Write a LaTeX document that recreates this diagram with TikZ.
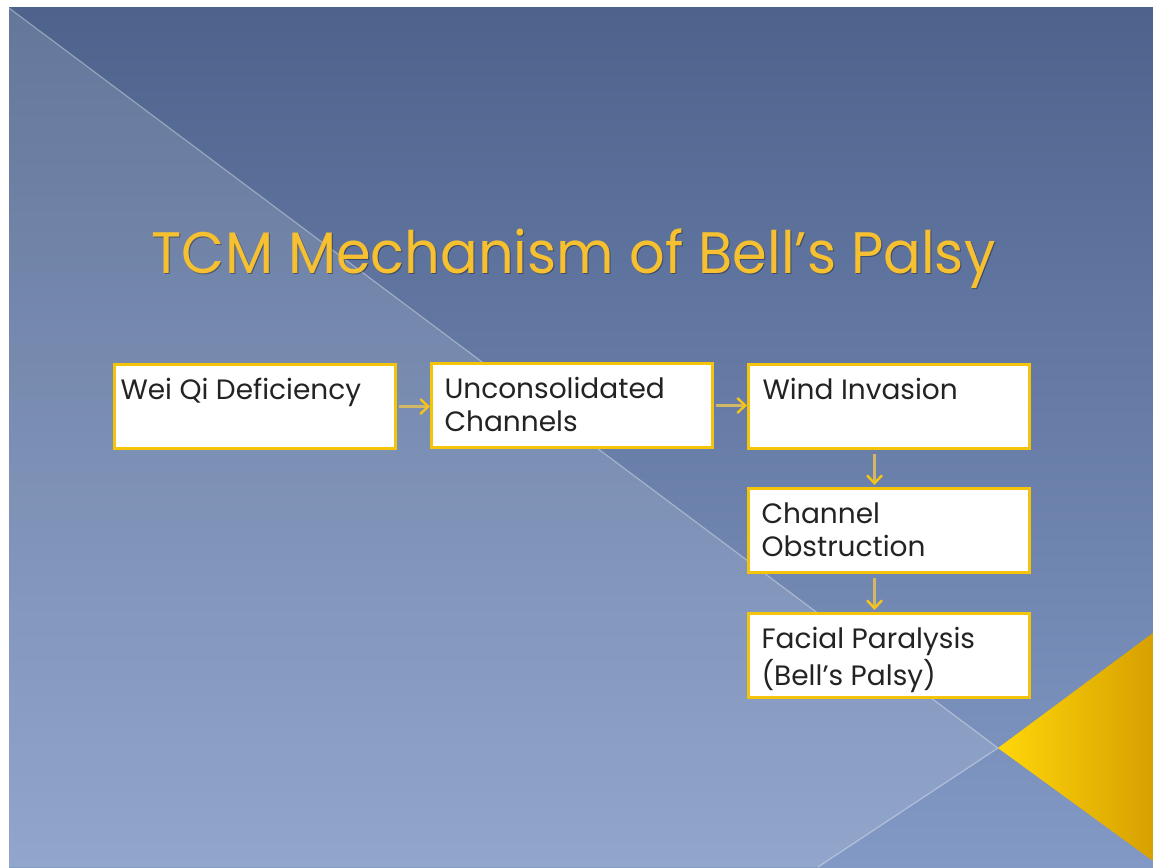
\documentclass[tikz,border=0pt]{standalone}
\usepackage{fontspec}
\setmainfont{Poppins}
\usetikzlibrary{arrows.meta,calc}
\definecolor{bgtop}{RGB}{78,99,140}
\definecolor{bgbot}{RGB}{130,153,197}
\definecolor{boxY}{RGB}{243,196,10}
\definecolor{arrY}{RGB}{245,196,20}
\definecolor{arrL}{RGB}{210,184,100}
\definecolor{titleY}{RGB}{246,192,48}
\definecolor{triA}{RGB}{255,214,10}
\definecolor{triB}{RGB}{215,160,0}
\definecolor{txt}{RGB}{35,35,35}
\tikzset{
  flowbox/.style={draw=boxY, line width=3pt, fill=white, anchor=north west,
    inner xsep=0pt, inner ysep=12pt, text=txt},
  flowarr/.style={draw=arrL, line width=2.4pt, -{Straight Barb[length=8pt,width=15pt,line width=2.4pt,color=arrY]}},
  edge line/.style={draw=white, draw opacity=0.35, line width=1.2pt}
}
\newcommand{\boxtext}[2][13pt]{\makebox[281pt][l]{\hspace*{#1}\parbox[t][60pt][t]{250pt}{\fontsize{28}{33}\selectfont\strut #2}}}
\begin{document}
\begin{tikzpicture}[x=1pt,y=-1pt]
\useasboundingbox (0,0) rectangle (1153,867);
\fill[white] (0,0) rectangle (1153,867);
% slide background
\shade[top color=bgtop, bottom color=bgbot] (9,8) rectangle (1153,867);
\fill[white, fill opacity=0.13] (9,8) -- (998,748) -- (818,867) -- (9,867) -- cycle;
\draw[edge line] (9,8) -- (998,748) -- (818,867);
% yellow triangle
\shade[left color=triA, right color=triB] (998,748) -- (1153,633) -- (1153,861) -- cycle;
% title
\node[anchor=base west, inner sep=0pt, text=black, text opacity=0.35, xscale=0.955] at (152.5,274.5)
  {\fontsize{58.5}{70}\selectfont TCM Mechanism of Bell’s Palsy};
\node (title) [anchor=base west, inner sep=0pt, text=titleY, xscale=0.955] at (151.5,273)
  {\fontsize{58.5}{70}\selectfont TCM Mechanism of Bell’s Palsy};
% boxes
\node (b1) [flowbox] at (113,363) {\boxtext[6pt]{Wei Qi Deficiency}};
\node (b2) [flowbox] at (430,362) {\boxtext{Unconsolidated\\Channels}};
\node (b3) [flowbox] at (747,363) {\boxtext[14pt]{Wind Invasion}};
\node (b4) [flowbox] at (747,487) {\boxtext[13pt]{Channel\\Obstruction}};
\node (b5) [flowbox] at (747,612) {\boxtext[13pt]{Facial Paralysis\\(Bell’s Palsy)}};
% arrows
\draw[flowarr] ([xshift=2pt]b1.east) -- (b1.east -| b2.west);
\draw[flowarr] ([xshift=2pt]b2.east) -- (b2.east -| b3.west);
\draw[flowarr] ([xshift=-14.5pt,yshift=-4pt]b3.south) -- ([xshift=-14.5pt,yshift=2pt]b4.north);
\draw[flowarr] ([xshift=-14.5pt,yshift=-4pt]b4.south) -- ([xshift=-14.5pt,yshift=2pt]b5.north);
\end{tikzpicture}
\end{document}
